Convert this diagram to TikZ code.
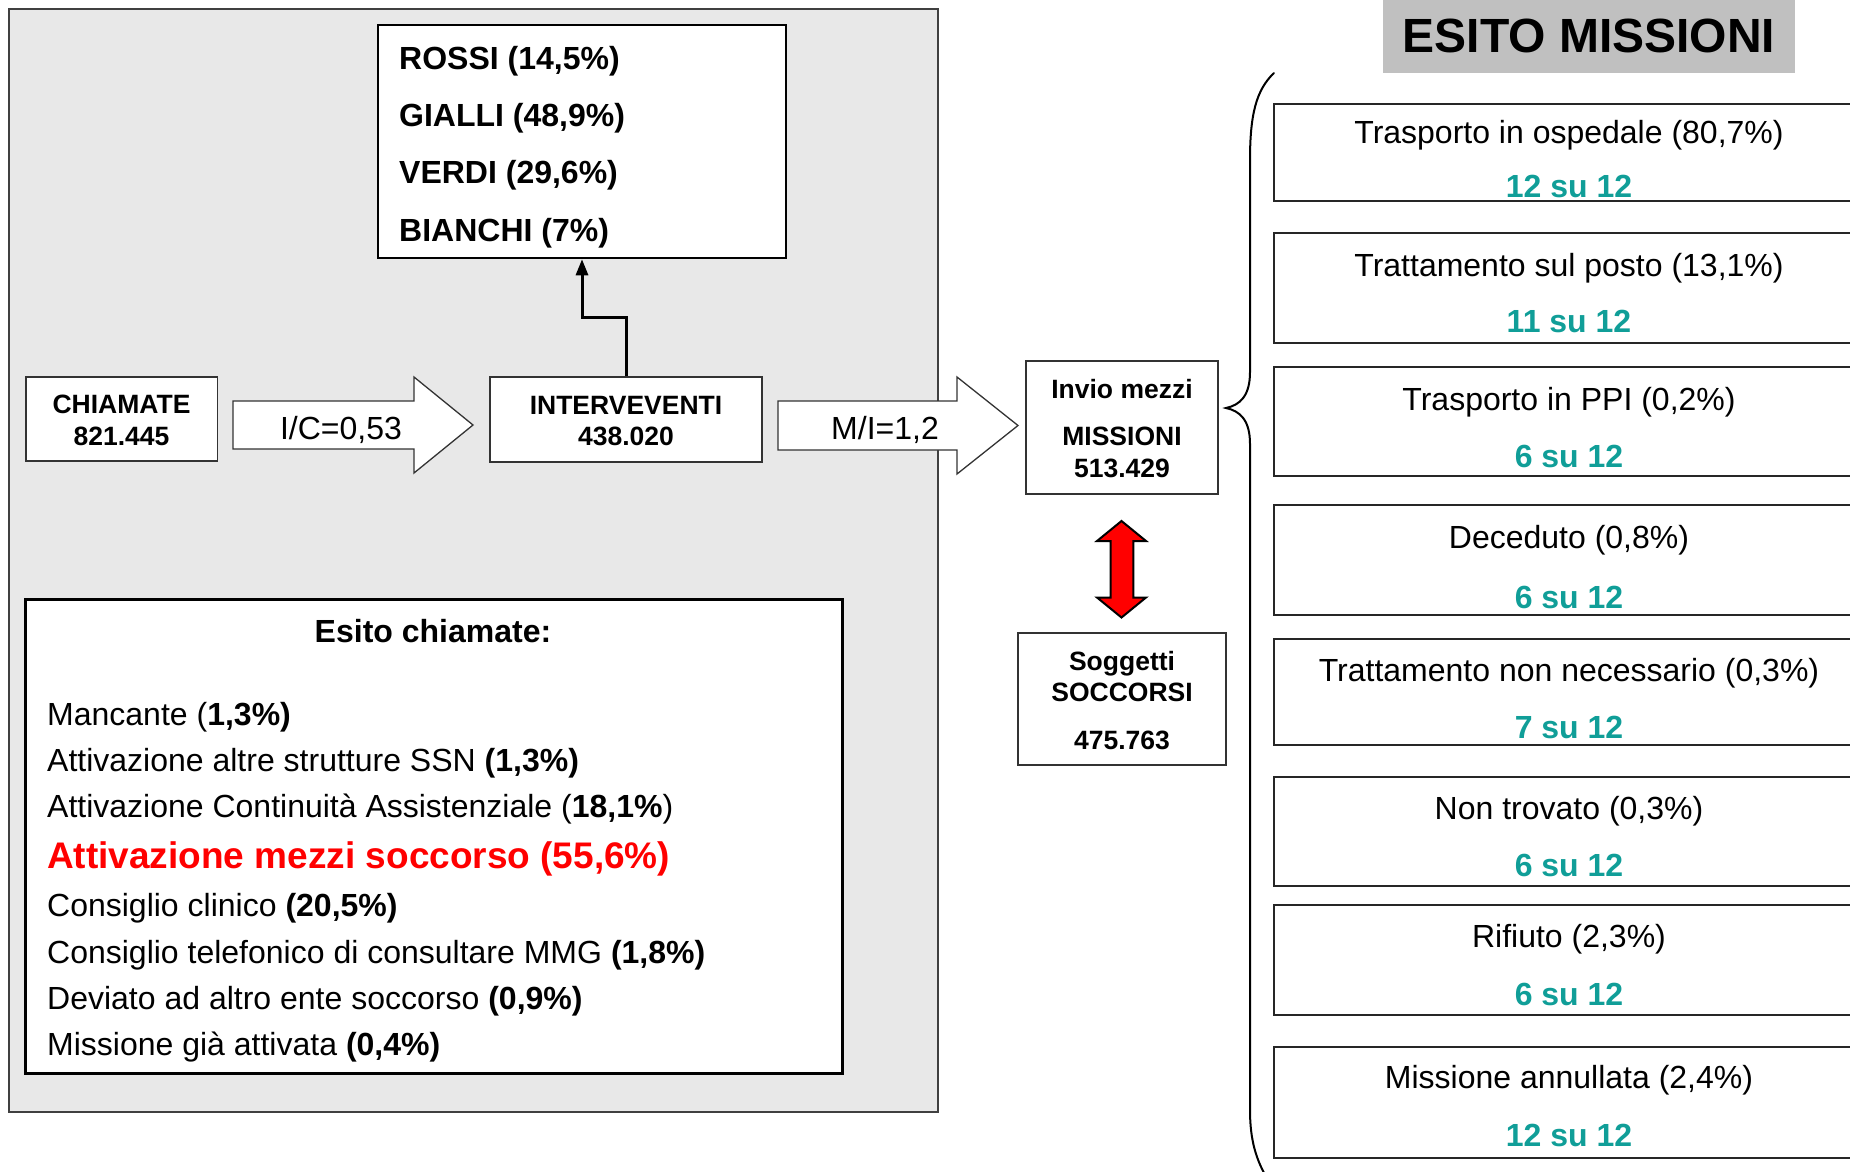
\documentclass[tikz,border=0pt]{standalone}
\usepackage{fontspec}
\setmainfont{Liberation Sans}
\usetikzlibrary{arrows.meta}
\definecolor{panelgray}{RGB}{232,232,232}
\definecolor{headgray}{RGB}{192,192,192}
\definecolor{tealtxt}{RGB}{16,158,152}
\definecolor{redtxt}{RGB}{255,0,0}
\begin{document}
\begin{tikzpicture}[x=1pt,y=-1pt,
  panel/.style={fill=panelgray,draw=black!75,line width=2pt},
  box/.style={draw=black,fill=white,line width=2pt,inner sep=0pt},
  rbox/.style={draw=black!85,fill=white,line width=2pt,inner sep=0pt,minimum width=600},
  blockarrow/.style={draw=black!80,fill=white,line width=1.3pt,line join=miter},
  redarrow/.style={draw=black,fill=redtxt,line width=2pt,line join=miter},
  f32/.style={font=\fontsize{32}{38}\selectfont,inner sep=0pt,anchor=base,yshift=-11.5pt},
  f32l/.style={f32,anchor=base west},
  b32/.style={f32,font=\bfseries\fontsize{32}{38}\selectfont},
  b32l/.style={b32,anchor=base west},
  b26/.style={font=\bfseries\fontsize{26.5}{32}\selectfont,inner sep=0pt,anchor=base,yshift=-9.5pt},
  red37/.style={font=\bfseries\fontsize{37}{44}\selectfont,text=redtxt,inner sep=0pt,anchor=base west,yshift=-13.3pt},
  teal32/.style={b32,text=tealtxt},
  conn/.style={line width=3pt,-{Triangle[width=12pt,length=16pt]}},
  bracestyle/.style={line width=2pt,line cap=round}
]
\useasboundingbox (0,0) rectangle (1850,1172);
\clip (0,0) rectangle (1850,1172);

% left gray panel
\path[panel] (9,9) rectangle (938,1112);

% top box with colour codes
\node[box,line width=2.5pt,minimum width=408,minimum height=233] (topbox) at (582,141.5) {};
\node[b32l] (rossi) at (399,58) {ROSSI (14,5\%)};
\node[b32l] (gialli) at (399,115) {GIALLI (48,9\%)};
\node[b32l] (verdi) at (399,172) {VERDI (29,6\%)};
\node[b32l] (bianchi) at (399,230) {BIANCHI (7\%)};

% CHIAMATE
\node[box,line width=1.5pt,draw=black!80,minimum width=191.5,minimum height=84] (chiamate) at (121.5,419) {};
\node[b26] (chT) at (121.5,404) {CHIAMATE};
\node[b26] (chN) at (121.5,436) {821.445};

% I/C block arrow
\path[blockarrow] (233,401) -- (414,401) -- (414,377) -- (473,425) -- (414,473) -- (414,449) -- (233,449) -- cycle;
\node[f32] (ic) at (341,428) {I/C=0,53};

% INTERVEVENTI
\node[box,line width=1.5pt,draw=black!80,minimum width=272,minimum height=85] (interv) at (626,419.5) {};
\node[b26] (inT) at (626,405) {INTERVEVENTI};
\node[b26] (inN) at (626,436) {438.020};

% connector to top box
\draw[conn] (interv.north) -- ++(0,-59) -| (topbox.south);

% M/I block arrow
\path[blockarrow] (778,401) -- (957,401) -- (957,377) -- (1018,425.5) -- (957,474) -- (957,450) -- (778,450) -- cycle;
\node[f32] (mi) at (885,428) {M/I=1,2};

% Invio mezzi box
\node[box,line width=1.5pt,draw=black!80,minimum width=192,minimum height=133] (invio) at (1122,427.5) {};
\node[b26] (inv1) at (1122,388.5) {Invio mezzi};
\node[b26] (inv2) at (1122,436) {MISSIONI};
\node[b26] (inv3) at (1122,467.5) {513.429};

% red double arrow
\path[redarrow] (1121.5,521) -- (1146,541) -- (1133.3,541) -- (1133.3,597.5) -- (1146,597.5) -- (1121.5,617.5) -- (1097,597.5) -- (1110.7,597.5) -- (1110.7,541) -- (1097,541) -- cycle;

% Soggetti box
\node[box,line width=1.5pt,draw=black!80,minimum width=208,minimum height=132] (sogg) at (1122,699) {};
\node[b26] (sg1) at (1122,660.5) {Soggetti};
\node[b26] (sg2) at (1122,692) {SOCCORSI};
\node[b26] (sg3) at (1122,739.5) {475.763};

% Esito chiamate box
\node[box,line width=3pt,minimum width=816.5,minimum height=474] (esitoc) at (433.75,836) {};
\node[b32] (ecT) at (433,631) {Esito chiamate:};
\node[f32l] (ec1) at (47,714) {Mancante (\textbf{1,3\%)}};
\node[f32l] (ec2) at (47,760) {Attivazione altre strutture SSN \textbf{(1,3\%)}};
\node[f32l] (ec3) at (47,806) {Attivazione Continuità Assistenziale (\textbf{18,1\%})};
\node[red37] (ec4) at (47,855.5) {Attivazione mezzi soccorso (55,6\%)};
\node[f32l] (ec5) at (47,905) {Consiglio clinico \textbf{(20,5\%)}};
\node[f32l] (ec6) at (47,952) {Consiglio telefonico di consultare MMG \textbf{(1,8\%)}};
\node[f32l] (ec7) at (47,998) {Deviato ad altro ente soccorso \textbf{(0,9\%)}};
\node[f32l] (ec8) at (47,1044) {Missione già attivata \textbf{(0,4\%)}};

% ESITO MISSIONI header
\node[fill=headgray,inner sep=0pt,minimum width=412,minimum height=78] (esitom) at (1589,34.5) {};
\node[font=\bfseries\fontsize{48}{56}\selectfont,inner sep=0pt,anchor=base,yshift=-17.2pt] (esitomT) at (1589,35.5) {ESITO MISSIONI};

% brace
\draw[bracestyle] (1274,73) .. controls (1256,90) and (1250,115) .. (1250,160)
  -- (1250,372) .. controls (1250,396) and (1240,405) .. (1226,408)
  .. controls (1240,411) and (1250,420) .. (1250,444)
  -- (1250,1110) .. controls (1250,1140) and (1256,1160) .. (1268,1180);

% right outcome boxes
\node[rbox,minimum height=97] (r1) at (1574,152.5) {};
\node[f32] (r1a) at (1569,132) {Trasporto in ospedale (80,7\%)};
\node[teal32] (r1b) at (1569,186) {12 su 12};

\node[rbox,minimum height=110] (r2) at (1574,288) {};
\node[f32] (r2a) at (1569,264.5) {Trattamento sul posto (13,1\%)};
\node[teal32] (r2b) at (1569,321) {11 su 12};

\node[rbox,minimum height=109] (r3) at (1574,421.5) {};
\node[f32] (r3a) at (1569,399) {Trasporto in PPI (0,2\%)};
\node[teal32] (r3b) at (1569,455.5) {6 su 12};

\node[rbox,minimum height=110] (r4) at (1574,560) {};
\node[f32] (r4a) at (1569,537) {Deceduto (0,8\%)};
\node[teal32] (r4b) at (1569,597) {6 su 12};

\node[rbox,minimum height=106] (r5) at (1574,692) {};
\node[f32] (r5a) at (1569,670) {Trattamento non necessario (0,3\%)};
\node[teal32] (r5b) at (1569,727) {7 su 12};

\node[rbox,minimum height=109] (r6) at (1574,831.5) {};
\node[f32] (r6a) at (1569,808) {Non trovato (0,3\%)};
\node[teal32] (r6b) at (1569,865) {6 su 12};

\node[rbox,minimum height=110] (r7) at (1574,960) {};
\node[f32] (r7a) at (1569,936) {Rifiuto (2,3\%)};
\node[teal32] (r7b) at (1569,993.5) {6 su 12};

\node[rbox,minimum height=111] (r8) at (1574,1102.5) {};
\node[f32] (r8a) at (1569,1077) {Missione annullata (2,4\%)};
\node[teal32] (r8b) at (1569,1135) {12 su 12};
\end{tikzpicture}
\end{document}
